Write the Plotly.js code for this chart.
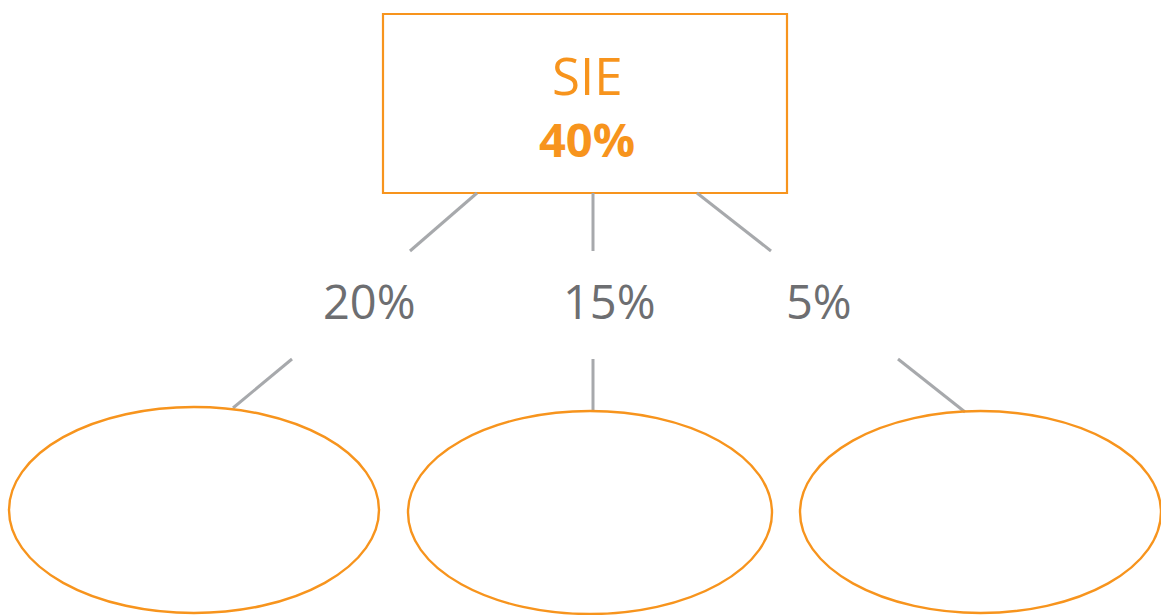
<!DOCTYPE html>
<html>
<head>
<meta charset="utf-8">
<script src="https://cdn.plot.ly/plotly-3.0.1.min.js"></script>
<style>html,body{margin:0;padding:0;background:#fff;}#chart{width:1161px;height:615px;}</style>
</head>
<body>
<div id="chart"></div>
<script>
// Data
var rootLabel = "SIE";
var rootValue = "40%";
var branchValues = ["20%", "15%", "5%"];

// Layout geometry (pixel space mapped to axes)
var W = 1161, H = 615;
var ORANGE = "#F7941D", GREY_LINE = "#A7A9AC", GREY_TEXT = "#6D6E71";
var rootBox = {x0: 383, y0: 14, x1: 787, y1: 193};
var labelPos = [[369, 301], [609, 301], [819, 301]];
var upperLinks = [[477, 193, 410, 251], [593, 193, 593, 251], [697, 193, 771, 251]];
var lowerLinks = [[292, 359, 233, 408], [593, 359, 593, 411], [898, 359, 965, 412]];
var ellipses = [[9, 407, 379, 613], [408, 411, 772, 614], [800, 411, 1161, 613]];

var shapes = [];
shapes.push({type: "rect", xref: "x", yref: "y", x0: rootBox.x0, y0: rootBox.y0, x1: rootBox.x1, y1: rootBox.y1,
  line: {color: ORANGE, width: 2.2}, fillcolor: "rgba(0,0,0,0)"});
upperLinks.concat(lowerLinks).forEach(function (l) {
  shapes.push({type: "line", xref: "x", yref: "y", x0: l[0], y0: l[1], x1: l[2], y1: l[3],
    line: {color: GREY_LINE, width: 3}});
});
ellipses.forEach(function (e) {
  shapes.push({type: "circle", xref: "x", yref: "y", x0: e[0], y0: e[1], x1: e[2], y1: e[3],
    line: {color: ORANGE, width: 2.4}, fillcolor: "rgba(0,0,0,0)"});
});

var annotations = [
  {x: (rootBox.x0 + rootBox.x1) / 2 + 2, y: 75, text: rootLabel, showarrow: false, xref: "x", yref: "y",
    font: {family: "Open Sans, sans-serif", size: 51, color: ORANGE}},
  {x: (rootBox.x0 + rootBox.x1) / 2 + 2, y: 139, text: "<b>" + rootValue + "</b>", showarrow: false, xref: "x", yref: "y",
    font: {family: "Open Sans, sans-serif", size: 47, color: ORANGE}}
];
branchValues.forEach(function (v, i) {
  annotations.push({x: labelPos[i][0], y: labelPos[i][1], text: v, showarrow: false, xref: "x", yref: "y",
    font: {family: "Open Sans, sans-serif", size: 47, color: GREY_TEXT}});
});

var layout = {
  width: W, height: H,
  margin: {l: 0, r: 0, t: 0, b: 0},
  paper_bgcolor: "#fff", plot_bgcolor: "#fff",
  showlegend: false,
  xaxis: {range: [0, W], visible: false, fixedrange: true},
  yaxis: {range: [H, 0], visible: false, fixedrange: true},
  shapes: shapes,
  annotations: annotations
};

Plotly.newPlot("chart", [{x: [], y: [], type: "scatter", mode: "markers"}], layout, {displayModeBar: false, staticPlot: true});
</script>
</body>
</html>
